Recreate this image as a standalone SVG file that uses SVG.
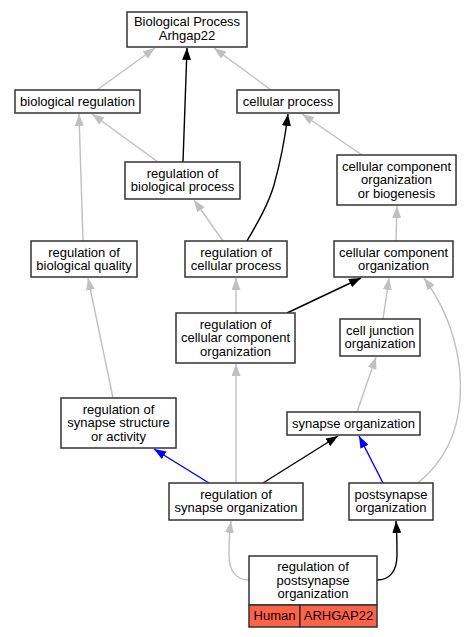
<svg xmlns="http://www.w3.org/2000/svg" width="471" height="637" viewBox="0 0 471 637">
<defs>
<style>
.n rect{fill:#fff;stroke:#333;stroke-width:1.5}
.n text,.t{font-family:"Liberation Sans",Arial,sans-serif;font-size:13px;fill:#000;text-anchor:middle}
.e path{fill:none;stroke-width:1.4}
.g{stroke:#c0c0c0;marker-end:url(#ag)}
.k{stroke:#000;marker-end:url(#ak)}
.b{stroke:#0000ff;marker-end:url(#ab)}
.red{fill:#ff6347!important}
</style>
<marker id="ag" viewBox="0 0 12 9" refX="12" refY="4.5" markerWidth="12" markerHeight="9" markerUnits="userSpaceOnUse" orient="auto"><path d="M0,0 L12,4.5 L0,9 Z" fill="#c0c0c0"/></marker>
<marker id="ak" viewBox="0 0 12 9" refX="12" refY="4.5" markerWidth="12" markerHeight="9" markerUnits="userSpaceOnUse" orient="auto"><path d="M0,0 L12,4.5 L0,9 Z" fill="#000"/></marker>
<marker id="ab" viewBox="0 0 12 9" refX="12" refY="4.5" markerWidth="12" markerHeight="9" markerUnits="userSpaceOnUse" orient="auto"><path d="M0,0 L12,4.5 L0,9 Z" fill="#0000ff"/></marker>
</defs>
<rect width="471" height="637" fill="#fff"/>
<g id="edges" class="e">
<path class="g" d="M97,90 L155,48"/>
<path class="k" d="M183,162 L187,48"/>
<path class="g" d="M271,90 L214,48"/>
<path class="g" d="M158,162 L92,114"/>
<path class="g" d="M83,241 L79,114"/>
<path class="k" d="M247,241 C258,222 268,205 274,185 C281,160 285,138 288,114"/>
<path class="g" d="M362,155 L302,114"/>
<path class="g" d="M223,241 L194,200"/>
<path class="g" d="M396,241 L397,206"/>
<path class="g" d="M113,398 L88,278"/>
<path class="g" d="M236,313 L236,278"/>
<path class="k" d="M287,313 L361,278"/>
<path class="g" d="M383,319 L389,278"/>
<path class="g" d="M357,412 L376,357"/>
<path class="g" d="M418,483 C440,465 457,440 460,400 C463,360 452,316 424,278"/>
<path class="b" d="M209,483 L154,449"/>
<path class="k" d="M263,483 L338,436"/>
<path class="b" d="M383,483 L359,436"/>
<path class="g" d="M236,483 L236,364"/>
<path class="g" d="M249,580 C237,580 229,572 229,555 C229,545 229,535 231,521"/>
<path class="k" d="M377,580 C389,580 397,572 397,555 C397,545 397,535 396,521"/>
</g>
<g id="bp" class="n"><rect x="127" y="12" width="120" height="35"/><text x="187" y="26">Biological Process</text><text x="187" y="39.5">Arhgap22</text></g>
<g id="br" class="n"><rect x="15" y="90" width="125" height="23"/><text x="77.5" y="106">biological regulation</text></g>
<g id="cp" class="n"><rect x="237" y="90" width="102" height="23"/><text x="288" y="106">cellular process</text></g>
<g id="rbp" class="n"><rect x="125" y="162" width="115" height="37"/><text x="182.5" y="177.5">regulation of</text><text x="182.5" y="191">biological process</text></g>
<g id="ccob" class="n"><rect x="337" y="155" width="119" height="50"/><text x="396.5" y="170.5">cellular component</text><text x="396.5" y="184">organization</text><text x="396.5" y="197.5">or biogenesis</text></g>
<g id="rbq" class="n"><rect x="31" y="241" width="106" height="36"/><text x="84" y="256.5">regulation of</text><text x="84" y="270">biological quality</text></g>
<g id="rcp" class="n"><rect x="185" y="241" width="102" height="36"/><text x="236" y="256.5">regulation of</text><text x="236" y="270">cellular process</text></g>
<g id="cco" class="n"><rect x="334" y="241" width="119" height="36"/><text x="393.5" y="256.5">cellular component</text><text x="393.5" y="270">organization</text></g>
<g id="rcco" class="n"><rect x="176" y="313" width="119" height="50"/><text x="235.5" y="328.5">regulation of</text><text x="235.5" y="342">cellular component</text><text x="235.5" y="355.5">organization</text></g>
<g id="cjo" class="n"><rect x="340" y="319" width="80" height="37"/><text x="380" y="334.5">cell junction</text><text x="380" y="348">organization</text></g>
<g id="rsa" class="n"><rect x="61" y="398" width="115" height="50"/><text x="118.5" y="413.5">regulation of</text><text x="118.5" y="427">synapse structure</text><text x="118.5" y="440.5">or activity</text></g>
<g id="so" class="n"><rect x="287" y="412" width="133" height="23"/><text x="353.5" y="427.5">synapse organization</text></g>
<g id="rso" class="n"><rect x="169" y="483" width="134" height="37"/><text x="236" y="498.5">regulation of</text><text x="236" y="512">synapse organization</text></g>
<g id="pso" class="n"><rect x="349" y="483" width="84" height="37"/><text x="391" y="498.5">postsynapse</text><text x="391" y="512">organization</text></g>
<g id="rpso" class="n"><rect x="249" y="556" width="128" height="49"/><text x="313" y="571">regulation of</text><text x="313" y="584.5">postsynapse</text><text x="313" y="598">organization</text>
<rect class="red" x="249" y="605" width="51" height="22"/><rect class="red" x="300" y="605" width="77" height="22"/><text x="274.5" y="620">Human</text><text x="338.5" y="620">ARHGAP22</text></g>
</svg>
